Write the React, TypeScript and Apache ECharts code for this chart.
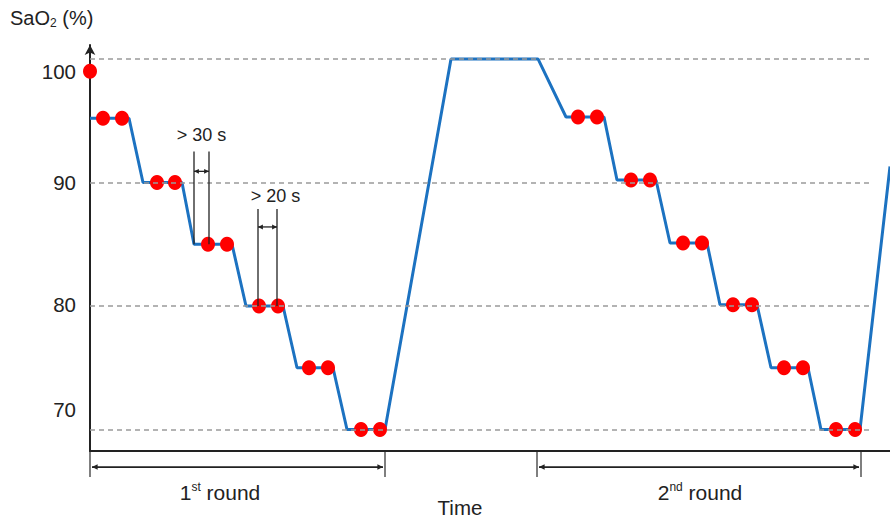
import React, { useEffect, useRef } from "react";
import * as echarts from "echarts";

// Time axis (arbitrary units) and SaO2 (%) values
const lineTime = [0, 39, 53, 92, 104, 142, 156, 193, 207, 243, 257, 295, 361, 448, 476, 514, 527, 566, 580, 617, 630, 667, 681, 718, 731, 770, 800];
const lineSaO2 = [95.2, 95.2, 90, 90, 85, 85, 80, 80, 75, 75, 70, 70, 100, 100, 95.3, 95.3, 90.2, 90.2, 85.1, 85.1, 80.1, 80.1, 75, 75, 70, 70, 91.3];

const dotTime = [0, 13, 32, 67, 85, 118, 137, 169, 188, 219, 238, 271, 290, 488, 507, 541, 560, 593, 612, 643, 662, 694, 713, 746, 765];
const dotSaO2 = [99, 95.2, 95.2, 90, 90, 85, 85, 80, 80, 75, 75, 70, 70, 95.3, 95.3, 90.2, 90.2, 85.1, 85.1, 80.1, 80.1, 75, 75, 70, 70];

const gridLevels = [100, 90, 80, 70];
const gridEndTime = 783;
const yTickLabels = ["100", "90", "80", "70"];
const yLabelPositions = [99.0, 90, 80.1, 71.6];

const rounds = [
  { start: 0, end: 295, textX: 130, label: "1", suffix: "st" },
  { start: 447, end: 771, textX: 610, label: "2", suffix: "nd" },
];
const intervals = [
  { x1: 104, x2: 119, bottom: 85, top: 92.5, arrowY: 90.9, textX: 111.5, textY: 93.85, text: "> 30 s" },
  { x1: 168, x2: 187, bottom: 80, top: 87.85, arrowY: 86.4, textX: 185.5, textY: 88.9, text: "> 20 s" },
];

const FONT = "Liberation Sans, Arial, sans-serif";

export default function App() {
  const ref = useRef<HTMLDivElement>(null);
  useEffect(() => {
    if (!ref.current) return;
    const chart = echarts.init(ref.current, null, { renderer: "svg" });
    const lineData = lineTime.map((t, i) => [t, lineSaO2[i]]);
    const dotData = dotTime.map((t, i) => [t, dotSaO2[i]]);
    chart.setOption({
      animation: false,
      grid: { left: 90, right: 0, top: 45, bottom: 70, containLabel: false },
      xAxis: {
        type: "value",
        min: 0,
        max: 800,
        axisLine: { lineStyle: { color: "#222", width: 2 } },
        axisTick: { show: false },
        axisLabel: { show: false },
        splitLine: { show: false },
      },
      yAxis: {
        type: "value",
        min: 68.26,
        max: 101.13,
        axisLine: { show: true, symbol: ["none", "arrow"], symbolSize: [8, 10], lineStyle: { color: "#222", width: 2 } },
        axisTick: { show: false },
        splitLine: { show: false },
        axisLabel: {
          customValues: yLabelPositions,
          formatter: (v: number) => {
            let best = 0;
            yLabelPositions.forEach((p, i) => {
              if (Math.abs(p - v) < Math.abs(yLabelPositions[best] - v)) best = i;
            });
            return yTickLabels[best];
          },
          fontSize: 20.5,
          fontFamily: FONT,
          color: "#222",
          margin: 14,
        },
      },
      series: [
        {
          type: "line",
          data: [],
          z: 1,
          markLine: {
            silent: true,
            symbol: "none",
            label: { show: false },
            lineStyle: { color: "#9a9a9a", type: [5, 4], width: 1.5 },
            data: gridLevels.map((v) => [{ coord: [0, v] }, { coord: [gridEndTime, v] }]),
          },
        },
        {
          type: "line",
          data: lineData,
          z: 2,
          symbol: "none",
          lineStyle: { color: "#1c72c1", width: 3 },
          clip: true,
        },
        {
          type: "scatter",
          data: dotData,
          z: 3,
          symbol: "circle",
          symbolSize: [14, 15],
          itemStyle: { color: "#ff0000", opacity: 1 },
        },
      ],
    });

    const p = (x: number, y: number) => chart.convertToPixel({ gridIndex: 0 }, [x, y]) as number[];
    const g: any[] = [];
    const arrowHeads = (xa: number, xb: number, y: number, color: string, s = 5) => {
      g.push({ type: "polygon", shape: { points: [[xa, y], [xa + s * 1.4, y - s * 0.7], [xa + s * 1.4, y + s * 0.7]] }, style: { fill: color } });
      g.push({ type: "polygon", shape: { points: [[xb, y], [xb - s * 1.4, y - s * 0.7], [xb - s * 1.4, y + s * 0.7]] }, style: { fill: color } });
    };

    intervals.forEach((it) => {
      const a0 = p(it.x1, it.bottom), a1 = p(it.x1, it.top);
      const b0 = p(it.x2, it.bottom), b1 = p(it.x2, it.top);
      g.push({ type: "line", shape: { x1: a0[0], y1: a0[1], x2: a1[0], y2: a1[1] }, style: { stroke: "#222", lineWidth: 1.3 }, z: 10 });
      g.push({ type: "line", shape: { x1: b0[0], y1: b0[1], x2: b1[0], y2: b1[1] }, style: { stroke: "#222", lineWidth: 1.3 }, z: 10 });
      const ar = p(it.x1, it.arrowY), br = p(it.x2, it.arrowY);
      g.push({ type: "line", shape: { x1: ar[0], y1: ar[1], x2: br[0], y2: br[1] }, style: { stroke: "#222", lineWidth: 1.3 }, z: 10 });
      arrowHeads(ar[0], br[0], ar[1], "#222", 3.5);
      const t = p(it.textX, it.textY);
      g.push({
        type: "text",
        x: t[0],
        y: t[1],
        style: { text: it.text, fontSize: 18, fontFamily: FONT, fill: "#222", align: "center", verticalAlign: "middle", backgroundColor: "#fff" },
        z: 11,
      });
    });

    rounds.forEach((r) => {
      const s0 = p(r.start, 68.26), s1 = p(r.start, 66.15);
      const e0 = p(r.end, 68.26), e1 = p(r.end, 66.15);
      g.push({ type: "line", shape: { x1: s0[0], y1: s0[1], x2: s1[0], y2: s1[1] }, style: { stroke: "#555", lineWidth: 1.5 } });
      g.push({ type: "line", shape: { x1: e0[0], y1: e0[1], x2: e1[0], y2: e1[1] }, style: { stroke: "#555", lineWidth: 1.5 } });
      const a = p(r.start, 66.96), b = p(r.end, 66.96);
      g.push({ type: "line", shape: { x1: a[0] + 2, y1: a[1], x2: b[0] - 2, y2: b[1] }, style: { stroke: "#222", lineWidth: 1.8 } });
      arrowHeads(a[0] + 2, b[0] - 2, a[1], "#222", 4);
      const c = p(r.textX, 64.94);
      g.push({
        type: "text",
        x: c[0],
        y: c[1],
        style: {
          text: `{n|${r.label}}{s|${r.suffix}}{n| round}`,
          align: "center",
          verticalAlign: "middle",
          rich: {
            n: { fontSize: 21, fontFamily: FONT, fill: "#222", color: "#222" },
            s: { fontSize: 12, fontFamily: FONT, fill: "#222", color: "#222", padding: [0, 0, 11, 0] },
          },
        },
      });
    });

    const tm = p(370, 63.65);
    g.push({ type: "text", x: tm[0], y: tm[1], style: { text: "Time", fontSize: 20.5, fontFamily: FONT, fill: "#222", align: "center", verticalAlign: "middle" } });

    g.push({
      type: "text",
      x: 10,
      y: 18,
      style: {
        text: "{a|SaO}{b|2}{a| (%)}",
        verticalAlign: "middle",
        rich: {
          a: { fontSize: 20, fontFamily: FONT, color: "#222", fill: "#222" },
          b: { fontSize: 12, fontFamily: FONT, color: "#222", fill: "#222", padding: [9, 0, 0, 0] },
        },
      },
    });

    chart.setOption({ graphic: g });
    return () => chart.dispose();
  }, []);
  return <div ref={ref} style={{ position: "fixed", left: 0, top: 0, width: 890, height: 521, background: "#fff" }} />;
}
